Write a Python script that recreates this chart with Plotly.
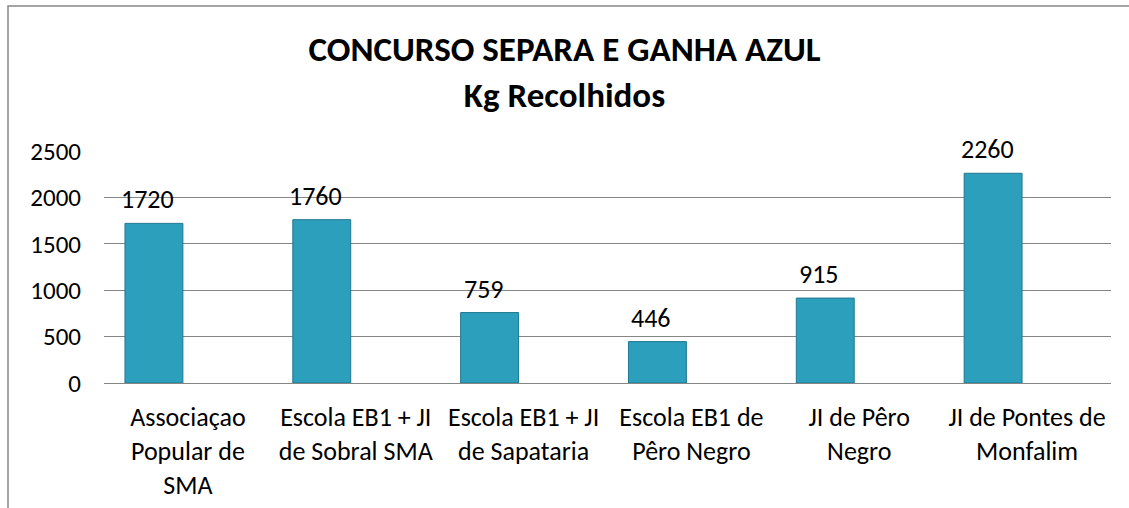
import plotly.graph_objects as go

categories = [
    "Associaçao<br>Popular de<br>SMA",
    "Escola EB1 + JI<br>de Sobral SMA",
    "Escola EB1 + JI<br>de Sapataria",
    "Escola EB1 de<br>Pêro Negro",
    "JI de Pêro<br>Negro",
    "JI de Pontes de<br>Monfalim",
]
kg_values = [1720, 1760, 759, 446, 915, 2260]
y_ticks = [0, 500, 1000, 1500, 2000, 2500]

FONT = "Calibri, Carlito, Lato, sans-serif"
BAR_OFFSET = -0.375
BAR_WIDTH = 0.345

idx = list(range(len(categories)))

fig = go.Figure()
fig.add_trace(go.Bar(
    x=idx, y=kg_values,
    offset=BAR_OFFSET, width=BAR_WIDTH,
    marker=dict(color="#2C9FBD", line=dict(color="#1F7790", width=1)),
    hoverinfo="y",
    showlegend=False,
))

for i, v in zip(idx, kg_values):
    fig.add_annotation(
        x=i + BAR_OFFSET + BAR_WIDTH / 2, y=v, text=str(v),
        showarrow=False, yanchor="bottom", xshift=-6, yshift=6,
        font=dict(family=FONT, size=26, color="#000000"),
    )

fig.update_layout(
    width=1129, height=508,
    paper_bgcolor="white", plot_bgcolor="white",
    margin=dict(l=104, r=18, t=151, b=125, autoexpand=False),
    font=dict(family=FONT, size=25, color="#000000"),
    title=dict(
        text="<b>CONCURSO SEPARA E GANHA AZUL<br>Kg Recolhidos</b>",
        x=0.5, xref="container", xanchor="center",
        y=1 - 61 / 508, yref="container", yanchor="top",
        font=dict(family=FONT, size=35, color="#000000"),
    ),
    xaxis=dict(
        tickmode="array", tickvals=idx, ticktext=categories,
        range=[-0.5, len(categories) - 0.5], automargin=False,
        showgrid=False, showline=True, linecolor="#868686", linewidth=1,
        ticks="", ticklabelstandoff=11, zeroline=False,
        tickfont=dict(family=FONT, size=26),
    ),
    yaxis=dict(
        range=[0, 2500], tickvals=y_ticks, automargin=False,
        showgrid=True, gridcolor="#868686", gridwidth=1,
        zeroline=False, showline=False, ticks="", ticklabelstandoff=22,
        tickfont=dict(family=FONT, size=25),
    ),
    shapes=[dict(
        type="rect", xref="paper", yref="paper",
        x0=(8 - 104) / 1007, x1=1.5, y0=-2, y1=(383 - 6) / 232,
        line=dict(color="#868686", width=1.5), fillcolor="rgba(0,0,0,0)",
        layer="below",
    )],
)

fig.write_html(
    "out.html",
    config={"displayModeBar": False},
    post_script="document.body.style.margin='0';",
)
